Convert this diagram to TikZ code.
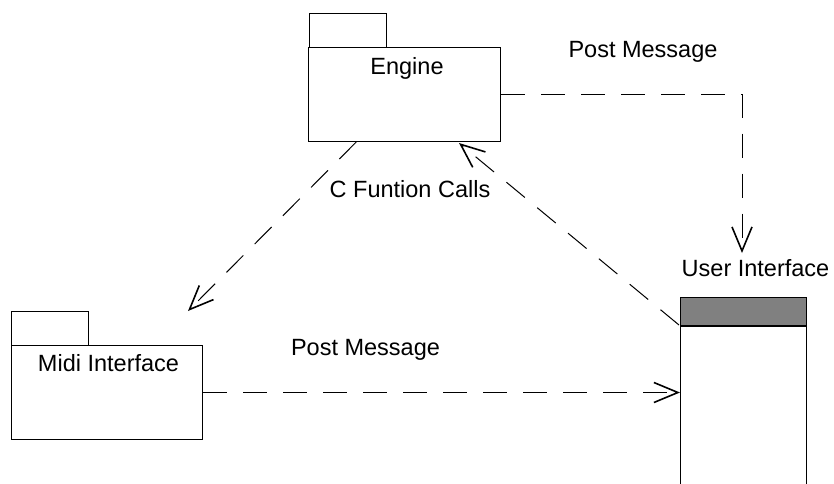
\documentclass[tikz,border=0pt]{standalone}
\usepackage{fontspec}
\setmainfont{Liberation Sans}
\usetikzlibrary{arrows.meta,calc}

\definecolor{headgray}{RGB}{128,128,128}

\tikzset{
  pkgbody/.style={draw, line width=1pt, inner sep=0pt, anchor=north west},
  pkgtab/.style={draw, line width=1pt},
  lbl/.style={font=\fontsize{23.5}{28}\selectfont, anchor=base, inner sep=0pt},
  dep/.style={line width=1pt, dash pattern=on 24pt off 16pt,
    -{Straight Barb[length=24pt,width=20pt,line width=1.6pt]}},
}

\begin{document}
\begin{tikzpicture}[x=1pt,y=-1pt]
\useasboundingbox (0,0) rectangle (834,483);

% Engine package
\draw[pkgtab] (309,13) rectangle (386,47);
\node[pkgbody, minimum width=192pt, minimum height=94pt] (engine) at (308,47) {};
\node[lbl] (enginelbl) at (407,74) {Engine};

% Midi Interface package
\draw[pkgtab] (11,311) rectangle (88,345);
\node[pkgbody, minimum width=191pt, minimum height=94pt] (midi) at (11,345) {};
\node[lbl] (midilbl) at (108.5,371) {Midi Interface};

% User Interface class box (runs past the lower edge)
\node[inner sep=0pt, minimum width=126pt, minimum height=187pt, anchor=north west] (ui) at (680,297) {};
\fill[headgray] (680,297) rectangle (806,326);
\draw[line width=1pt] (680,484) -- (680,297) -- (806,297) -- (806,484);
\draw[line width=2pt] (680,326) -- (807,326);
\node[lbl] (uilbl) at (755.5,276) {User Interface};

% Connector end points
\coordinate (uitip) at (742,253);
\coordinate (miditip) at (188,311);
\coordinate (enginetip) at (459,143);
\coordinate (uistart) at (679,325);
\coordinate (enginestart) at ($(engine.south west)!0.25!(engine.south east)$);

% Dependencies
\draw[dep] (engine.east) -| (uitip);
\draw[dep] (enginestart) -- (miditip);
\draw[dep] (uistart) -- (enginetip);
\draw[dep] (midi.east) -- (midi.east -| ui.west);

% Labels on the connectors
\node[lbl] (pm1) at (643,57) {Post Message};
\node[lbl] (cfc) at (410,197) {C Funtion Calls};
\node[lbl] (pm2) at (365.5,355) {Post Message};
\end{tikzpicture}
\end{document}
